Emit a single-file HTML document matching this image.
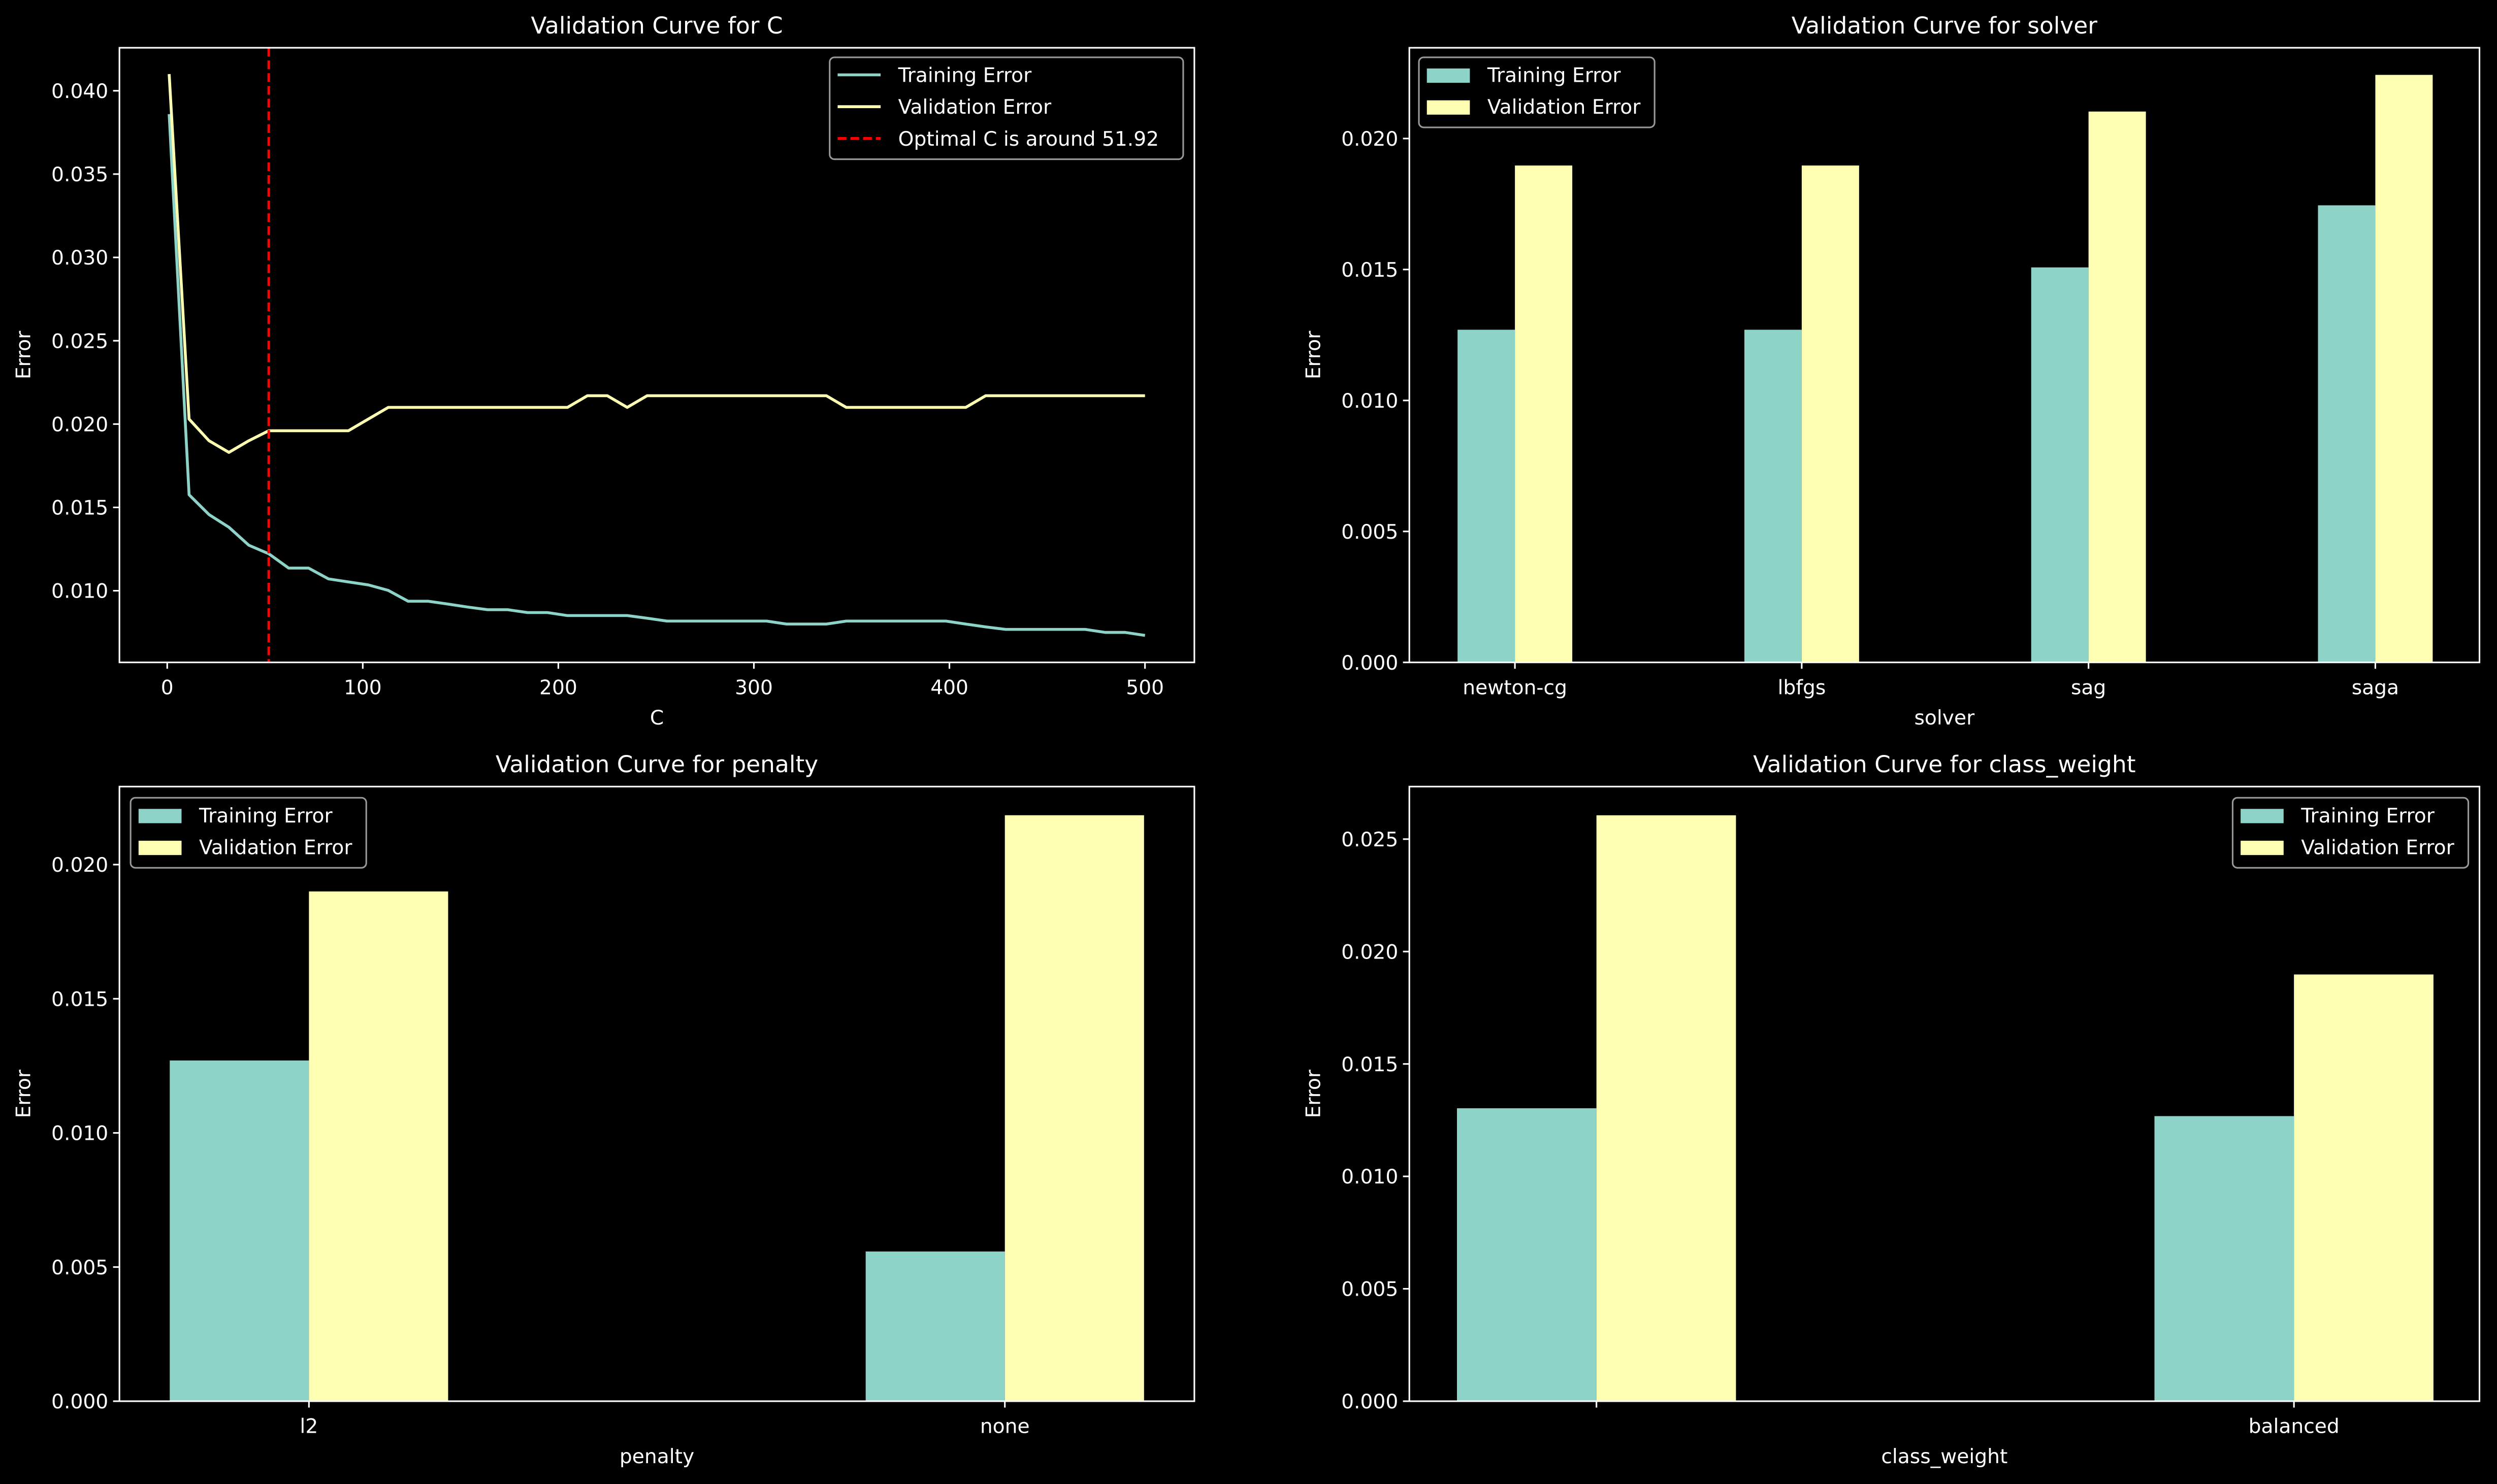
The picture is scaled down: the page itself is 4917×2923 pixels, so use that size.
<!DOCTYPE html>
<html><head><meta charset="utf-8"><style>
html,body{margin:0;padding:0;background:#000;}
svg{display:block;}
text{font-family:"DejaVu Sans","Liberation Sans",sans-serif;fill:#fff;}
</style></head><body>
<svg id="fig" xmlns="http://www.w3.org/2000/svg" width="4917" height="2923" viewBox="0 0 1568 932" preserveAspectRatio="none">
<rect x="0" y="0" width="1568" height="932" fill="#000"/>
</svg>
<script>
// ---- data ----
const cValues = [];
for (let i = 0; i < 50; i++) cValues.push(1 + i * 499 / 49);
const cTrainError = [0.0386,0.01576,0.01457,0.01381,0.01273,0.01222,0.01136,0.01136,0.01071,0.01053,
 0.01035,0.01002,0.00937,0.00937,0.0092,0.00902,0.00886,0.00886,0.00869,0.00869,
 0.00851,0.00851,0.00851,0.00851,0.00835,0.00818,0.00818,0.00818,0.00818,0.00818,
 0.00818,0.0080,0.0080,0.0080,0.00818,0.00818,0.00818,0.00818,0.00818,0.00818,
 0.0080,0.00783,0.00768,0.00768,0.00768,0.00768,0.00768,0.0075,0.0075,0.00732];
const cValError = [0.041,0.0203,0.019,0.0183,0.019,0.0196,0.0196,0.0196,0.0196,0.0196,
 0.0203,0.021,0.021,0.021,0.021,0.021,0.021,0.021,0.021,0.021,
 0.021,0.0217,0.0217,0.021,0.0217,0.0217,0.0217,0.0217,0.0217,0.0217,
 0.0217,0.0217,0.0217,0.0217,0.021,0.021,0.021,0.021,0.021,0.021,
 0.021,0.0217,0.0217,0.0217,0.0217,0.0217,0.0217,0.0217,0.0217,0.0217];
const optimalC = 51.92;
const cXTicks = [0,100,200,300,400,500];
const cYTicks = ["0.010","0.015","0.020","0.025","0.030","0.035","0.040"];

const solverCats = ["newton-cg","lbfgs","sag","saga"];
const solverTrain = [0.0127,0.0127,0.01508,0.01745];
const solverVal = [0.01897,0.01897,0.02103,0.02243];
const solverYTicks = ["0.000","0.005","0.010","0.015","0.020"];

const penaltyCats = ["l2","none"];
const penaltyTrain = [0.0127,0.00558];
const penaltyVal = [0.019,0.02184];
const penaltyYTicks = ["0.000","0.005","0.010","0.015","0.020"];

const cwCats = ["","balanced"];
const cwTrain = [0.01303,0.01268];
const cwVal = [0.02606,0.01898];
const cwYTicks = ["0.000","0.005","0.010","0.015","0.020","0.025"];

const TEAL = "#8dd3c7", YEL = "#ffffb3";
const NS = "http://www.w3.org/2000/svg";
const fig = document.getElementById('fig');
function mk(tag, attrs, parent) {
  const e = document.createElementNS(NS, tag);
  for (const k in attrs) e.setAttribute(k, attrs[k]);
  (parent || fig).appendChild(e);
  return e;
}
function txt(s, x, y, size, anchor, parent) {
  const t = mk('text', {x: x, y: y, 'font-size': size, 'text-anchor': anchor || 'middle'}, parent);
  t.textContent = s;
  return t;
}

function panel(name, box, title, xlabel) {
  const g = mk('g', {});
  
  
  const t = txt(title, (box.x0 + box.x1) / 2, box.y0 - 9, 14.5, 'middle', g);
  
  
  const yl = txt('Error', 0, 0, 12.5, 'middle', g);
  yl.setAttribute('transform', 'translate(' + (box.x0 - 56) + ',' + ((box.y0 + box.y1) / 2) + ') rotate(-90)');
  
  
  const xl = txt(xlabel, (box.x0 + box.x1) / 2, box.y1 + 39, 12.5, 'middle', g);
  
  
  return g;
}
function frame(g, box) {
  const r = mk('rect', {x: box.x0, y: box.y0, width: box.x1 - box.x0, height: box.y1 - box.y0, fill: 'none', stroke: '#fff', 'stroke-width': 1}, g);
  
  
}
function yTicks(g, box, labels, ys) {
  labels.forEach(l => {
    const y = ys(parseFloat(l));
    const tk = mk('line', {x1: box.x0 - 4, x2: box.x0, y1: y, y2: y, stroke: '#fff', 'stroke-width': 1}, g);
    
    
    const tl = txt(l, box.x0 - 7, y + 4.5, 12.5, 'end', g);
    
    
  });
}
function xTick(g, box, x, label) {
  const tk = mk('line', {x1: x, x2: x, y1: box.y1, y2: box.y1 + 4, stroke: '#fff', 'stroke-width': 1}, g);
  
  
  const tl = txt(label, x, box.y1 + 20, 12.5, 'middle', g);
  
  
}
function legend(g, x, y, w, entries) {
  const h = 4 + entries.length * 20;
  const b = mk('rect', {x: x, y: y, width: w, height: h, rx: 3, fill: '#000', 'fill-opacity': 0.8, stroke: '#999', 'stroke-width': 1}, g);
  
  
  entries.forEach((e, i) => {
    const cy = y + 11 + i * 20;
    let h2;
    if (e.kind === 'patch') {
      h2 = mk('rect', {x: x + 5, y: cy - 4, width: 27, height: 9, fill: e.color}, g);
    } else {
      h2 = mk('line', {x1: x + 5, x2: x + 32, y1: cy, y2: cy, stroke: e.color, 'stroke-width': 1.8, 'stroke-dasharray': e.dash || 'none'}, g);
    }
    
    
    const t = txt(e.label, x + 43, cy + 4.5, 12.5, 'start', g);
    
    
  });
}

// ---- Panel 1: line chart for C ----
(function () {
  const box = {x0: 75, x1: 750, y0: 30, y1: 416};
  const g = panel('panel-c', box, 'Validation Curve for C', 'C');
  const xs = v => 105 + (v - 0) * (719 - 105) / 500;
  const ys = v => 371 - (v - 0.010) * (314 / 0.030);
  yTicks(g, box, cYTicks, ys);
  cXTicks.forEach(v => xTick(g, box, xs(v), String(v)));
  const tp = cValues.map((c, i) => xs(c).toFixed(2) + ',' + ys(cTrainError[i]).toFixed(2)).join(' ');
  const vp = cValues.map((c, i) => xs(c).toFixed(2) + ',' + ys(cValError[i]).toFixed(2)).join(' ');
  const l1 = mk('polyline', {points: tp, fill: 'none', stroke: TEAL, 'stroke-width': 1.8, 'stroke-linejoin': 'round'}, g);
  
  
  const l2 = mk('polyline', {points: vp, fill: 'none', stroke: YEL, 'stroke-width': 1.8, 'stroke-linejoin': 'round'}, g);
  
  
  const ox = xs(optimalC);
  const ol = mk('line', {x1: ox, x2: ox, y1: box.y0, y2: box.y1, stroke: '#ff0000', 'stroke-width': 1.6, 'stroke-dasharray': '5.5,2.5'}, g);
  
  
  frame(g, box);
  legend(g, 521, 36, 222, [
    {kind: 'line', color: TEAL, label: 'Training Error'},
    {kind: 'line', color: YEL, label: 'Validation Error'},
    {kind: 'line', color: '#ff0000', dash: '5.5,2.5', label: 'Optimal C is around ' + optimalC.toFixed(2)}
  ]);
})();

function barPanel(name, box, title, xlabel, cats, train, val, ticks, x0, spacing, zeroY, pxPerUnit, legPos) {
  const g = panel(name, box, title, xlabel);
  const ys = v => zeroY - v * pxPerUnit;
  const xc = i => x0 + i * spacing;
  const bw = spacing * 0.2;
  yTicks(g, box, ticks, ys);
  cats.forEach((c, i) => {
    const r1 = mk('rect', {x: xc(i) - bw, y: ys(train[i]), width: bw, height: zeroY - ys(train[i]), fill: TEAL}, g);
    
    
    const r2 = mk('rect', {x: xc(i), y: ys(val[i]), width: bw, height: zeroY - ys(val[i]), fill: YEL}, g);
    
    
    xTick(g, box, xc(i), c);
  });
  frame(g, box);
  legend(g, legPos[0], legPos[1], 148, [
    {kind: 'patch', color: TEAL, label: 'Training Error'},
    {kind: 'patch', color: YEL, label: 'Validation Error'}
  ]);
}

barPanel('panel-solver', {x0: 885, x1: 1557, y0: 30, y1: 416}, 'Validation Curve for solver', 'solver',
  solverCats, solverTrain, solverVal, solverYTicks, 951.3, 180.1, 416, 16450, [891, 36]);
barPanel('panel-penalty', {x0: 75, x1: 750, y0: 494, y1: 880}, 'Validation Curve for penalty', 'penalty',
  penaltyCats, penaltyTrain, penaltyVal, penaltyYTicks, 194, 437, 880, 16850, [82, 501]);
barPanel('panel-class-weight', {x0: 885, x1: 1557, y0: 494, y1: 880}, 'Validation Curve for class_weight', 'class_weight',
  cwCats, cwTrain, cwVal, cwYTicks, 1002.5, 438, 880, 14120, [1402, 501]);
</script>
</body></html>
